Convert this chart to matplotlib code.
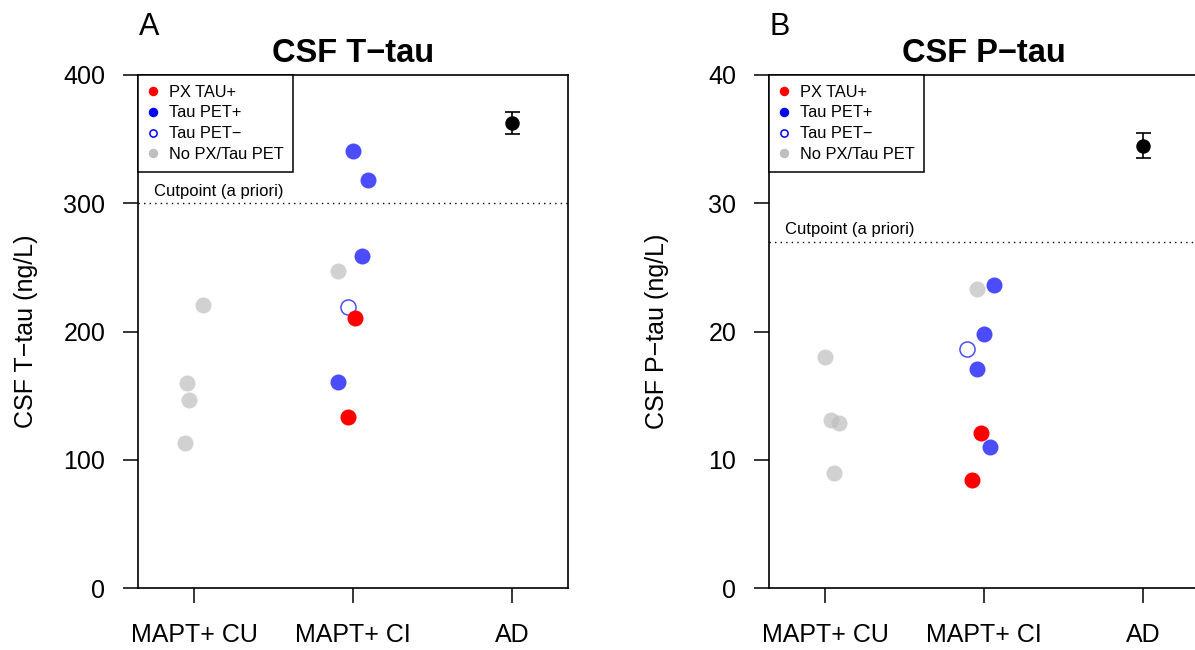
import numpy as np
import matplotlib
matplotlib.use("Agg")
import matplotlib.pyplot as plt
from matplotlib.lines import Line2D

plt.rcParams['font.family'] = ['Liberation Sans', 'DejaVu Sans']

groups = ['MAPT+ CU', 'MAPT+ CI', 'AD']
status_colors = {'px': 'red', 'pos': 'blue', 'neg': 'blue', 'none': '#BEBEBE'}

# panel A: CSF T-tau (ng/L)
ttau_x = [1.057, 0.956, 0.969, 0.943, 1.906, 2.000, 2.094, 2.057, 1.969, 2.013, 1.906, 1.969]
ttau_y = [221, 160, 146.6, 113, 247, 341, 318, 259, 219, 210.5, 161, 133]
ttau_status = ['none', 'none', 'none', 'none', 'none', 'pos', 'pos', 'pos', 'neg', 'px', 'pos', 'px']
ttau_ad_mean = 362.6
ttau_ad_err = 8.6
ttau_cut = 300

# panel B: CSF P-tau (ng/L)
ptau_x = [1.0, 1.038, 1.088, 1.057, 1.953, 2.060, 1.997, 1.896, 1.953, 1.984, 2.035, 1.927]
ptau_y = [18.0, 13.1, 12.9, 8.97, 23.3, 23.6, 19.8, 18.6, 17.1, 12.1, 11.0, 8.4]
ptau_status = ['none', 'none', 'none', 'none', 'none', 'pos', 'pos', 'neg', 'pos', 'px', 'pos', 'px']
ptau_ad_mean = 34.5
ptau_ad_err = 1.0
ptau_cut = 27

legend_labels = ['PX TAU+', 'Tau PET+', 'Tau PET\u2212', 'No PX/Tau PET']


def panel(ax, xs, ys, status, ad_mean, ad_err, cut, ymax, title, ylabel, letter, fig_x):
    xs = np.array(xs)
    ys = np.array(ys)
    status = np.array(status)
    for st in ['none', 'pos', 'neg', 'px']:
        m = status == st
        if st == 'neg':
            ax.scatter(xs[m], ys[m], s=118, facecolors='white', edgecolors='blue',
                       linewidths=1.1, alpha=0.7, zorder=3)
        else:
            ax.scatter(xs[m], ys[m], s=133, color=status_colors[st], linewidths=0,
                       alpha=1.0 if st == 'px' else 0.7, zorder=3)
    ax.errorbar([3], [ad_mean], yerr=[ad_err], fmt='o', color='black', ms=9.4,
                capsize=5.4, elinewidth=1.2, capthick=1.2, zorder=4)
    ax.axhline(cut, color='black', lw=1, linestyle=(0, (1, 3)))
    ax.annotate('Cutpoint (a priori)', xy=(0, cut), xycoords=('axes fraction', 'data'),
                xytext=(11.5, 5.5), textcoords='offset points', fontsize=12,
                va='baseline', ha='left')
    ax.set_xlim(0.648, 3.352)
    ax.set_ylim(0, ymax)
    ax.set_xticks([1, 2, 3])
    ax.set_xticklabels(groups)
    ax.set_yticks(np.linspace(0, ymax, 5))
    ax.tick_params(direction='out', length=11, width=1.1, labelsize=18)
    ax.tick_params(axis='x', pad=14.5)
    ax.tick_params(axis='y', pad=12.5)
    for sp in ax.spines.values():
        sp.set_linewidth(1.2)
    ax.set_title(title, fontweight='bold', fontsize=23.5, pad=9)
    ax.set_ylabel(ylabel, fontsize=18)
    ax.yaxis.set_label_coords(-0.232, 0.5)

    handles = [
        Line2D([], [], ls='', marker='o', ms=5.8, mfc='red', mec='red'),
        Line2D([], [], ls='', marker='o', ms=5.8, mfc='blue', mec='blue'),
        Line2D([], [], ls='', marker='o', ms=5.2, mfc='white', mec='blue', mew=1.1),
        Line2D([], [], ls='', marker='o', ms=5.8, mfc='#BEBEBE', mec='#BEBEBE'),
    ]
    leg = ax.legend(handles, legend_labels, loc='upper left', bbox_to_anchor=(0, 1),
                    borderaxespad=0, fontsize=11.8, fancybox=False, framealpha=1,
                    edgecolor='black', borderpad=0.58, labelspacing=0.36,
                    handlelength=0.7, handletextpad=0.6)
    leg.get_frame().set_linewidth(1.1)
    ax.figure.text(fig_x, 1 - 35 / 650, letter, fontsize=22, va='baseline', ha='left')


fig = plt.figure(figsize=(11.95, 6.5), dpi=100)
ax1 = fig.add_axes([138 / 1195, 1 - 588 / 650, 430 / 1195, 513 / 650])
ax2 = fig.add_axes([769 / 1195, 1 - 588 / 650, 430 / 1195, 513 / 650])

panel(ax1, ttau_x, ttau_y, ttau_status, ttau_ad_mean, ttau_ad_err, ttau_cut, 400,
      'CSF T\u2212tau', 'CSF T\u2212tau (ng/L)', 'A', 139 / 1195)
panel(ax2, ptau_x, ptau_y, ptau_status, ptau_ad_mean, ptau_ad_err, ptau_cut, 40,
      'CSF P\u2212tau', 'CSF P\u2212tau (ng/L)', 'B', 769 / 1195)

fig.savefig('out.png', dpi=100)
